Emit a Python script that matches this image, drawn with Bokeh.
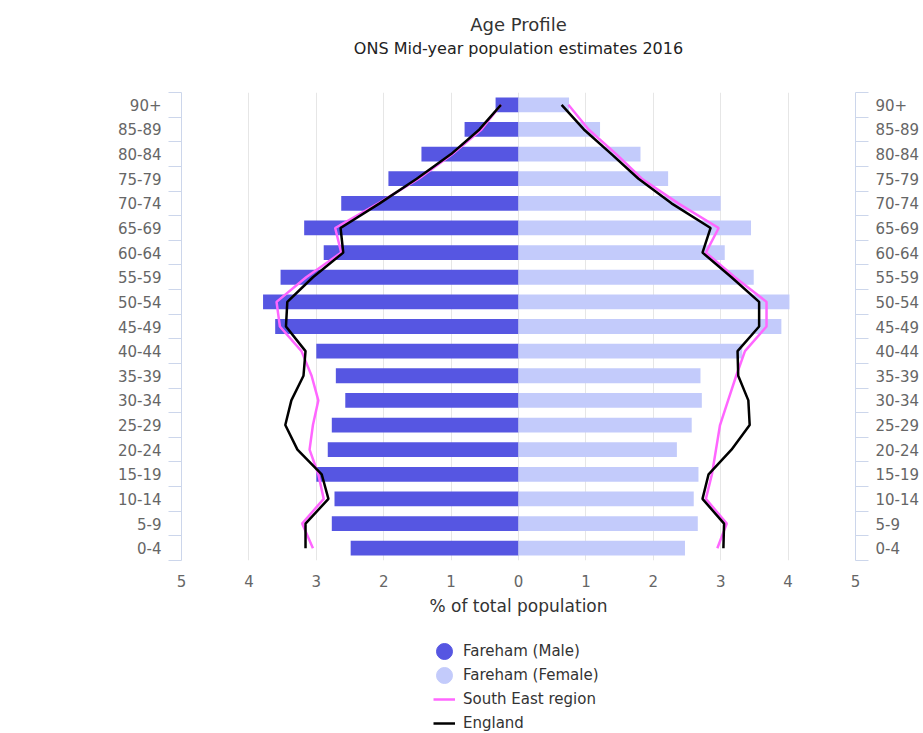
import numpy as np
from bokeh.plotting import figure
from bokeh.layouts import column
from bokeh.models import FixedTicker, LinearAxis, Range1d, Legend, LegendItem, Title
from bokeh.embed import file_html
from bokeh.resources import INLINE

# ---- data (bottom to top) ----
age_groups = ["0-4", "5-9", "10-14", "15-19", "20-24", "25-29", "30-34", "35-39",
              "40-44", "45-49", "50-54", "55-59", "60-64", "65-69", "70-74",
              "75-79", "80-84", "85-89", "90+"]
fareham_male = [2.49, 2.77, 2.73, 3.00, 2.83, 2.77, 2.57, 2.71, 3.00, 3.61,
                3.79, 3.53, 2.89, 3.18, 2.63, 1.93, 1.44, 0.80, 0.34]
fareham_female = [2.47, 2.66, 2.60, 2.67, 2.35, 2.57, 2.72, 2.70, 3.32, 3.90,
                  4.02, 3.49, 3.06, 3.45, 3.00, 2.22, 1.81, 1.21, 0.75]
south_east_male = [3.05, 3.21, 2.89, 2.97, 3.10, 3.05, 2.97, 3.07, 3.22, 3.54,
                   3.59, 3.15, 2.63, 2.72, 2.08, 1.48, 0.98, 0.55, 0.26]
south_east_female = [2.95, 3.09, 2.78, 2.87, 2.93, 2.99, 3.11, 3.23, 3.36, 3.68,
                     3.68, 3.21, 2.78, 2.97, 2.37, 1.83, 1.45, 1.04, 0.74]
england_male = [3.16, 3.16, 2.82, 2.92, 3.28, 3.46, 3.37, 3.19, 3.16, 3.45,
                3.43, 3.05, 2.60, 2.64, 2.06, 1.51, 1.00, 0.58, 0.26]
england_female = [3.04, 3.05, 2.73, 2.82, 3.16, 3.43, 3.41, 3.26, 3.25, 3.57,
                  3.57, 3.16, 2.73, 2.85, 2.27, 1.78, 1.38, 0.97, 0.64]
x_ticks = [-5, -4, -3, -2, -1, 0, 1, 2, 3, 4, 5]
series_names = ["Fareham (Male)", "Fareham (Female)", "South East region", "England"]

MALE = "#5656e2"
FEMALE = "#c3cbfb"
SE = "#ff66ff"
ENG = "#000000"
AXIS = "#ccd6eb"
FONT = "DejaVu Sans"

pos = list(range(len(age_groups)))
neg = lambda arr: [-v for v in arr]

p = figure(width=923, height=618, title=None,
           x_range=Range1d(-5, 5), y_range=Range1d(-0.5, len(age_groups) - 0.5),
           output_backend="svg", toolbar_location=None,
           min_border_left=181, min_border_right=68, min_border_top=92,
           min_border_bottom=58, x_axis_location=None, y_axis_location=None)
p.outline_line_color = None
p.background_fill_color = "white"

# titles (first added sits closest to the plot)
p.add_layout(Title(text=" ", text_font_size="10px", standoff=22), "above")
p.add_layout(Title(text="ONS Mid-year population estimates 2016", align="center",
                   text_font_size="16px", text_font=FONT, text_font_style="normal",
                   text_color="#222222", standoff=0), "above")
p.add_layout(Title(text="Age Profile", align="center", text_font_size="18px",
                   text_font=FONT, text_font_style="normal", text_color="#333333",
                   standoff=3), "above")

# bars
p.hbar(y=pos, left=neg(fareham_male), right=0, height=0.6, fill_color=MALE, line_color=None)
p.hbar(y=pos, left=0, right=fareham_female, height=0.6, fill_color=FEMALE, line_color=None)

# lines
p.line(x=neg(south_east_male), y=pos, line_color=SE, line_width=2.5)
p.line(x=south_east_female, y=pos, line_color=SE, line_width=2.5)
p.line(x=neg(england_male), y=pos, line_color=ENG, line_width=2.5)
p.line(x=england_female, y=pos, line_color=ENG, line_width=2.5)

# x axis
xt = FixedTicker(ticks=x_ticks)
xaxis = LinearAxis(ticker=xt,
                   major_label_overrides={t: str(abs(t)) for t in x_ticks},
                   axis_line_color=None, major_tick_line_color=None,
                   minor_tick_line_color=None, major_tick_out=0, major_tick_in=0,
                   minor_tick_out=0, minor_tick_in=0,
                   major_label_standoff=14, major_label_text_font_size="15px",
                   major_label_text_font=FONT, major_label_text_color="#666666",
                   axis_label="% of total population", axis_label_standoff=6,
                   axis_label_text_font_size="17px", axis_label_text_font=FONT,
                   axis_label_text_font_style="normal", axis_label_text_color="#333333")
p.add_layout(xaxis, "below")
p.xgrid.ticker = xt
p.xgrid.grid_line_color = "#e6e6e6"
p.ygrid.grid_line_color = None

# y axes
def make_yaxis():
    yt = FixedTicker(ticks=pos, minor_ticks=[i - 0.5 for i in range(len(age_groups) + 1)])
    return LinearAxis(ticker=yt,
                      major_label_overrides={i: lab for i, lab in enumerate(age_groups)},
                      axis_line_color=AXIS, major_tick_line_color=None,
                      major_tick_out=0, major_tick_in=0,
                      minor_tick_line_color=AXIS, minor_tick_out=13, minor_tick_in=0,
                      major_label_standoff=7, major_label_text_font_size="15px",
                      major_label_text_font=FONT, major_label_text_color="#666666")

p.add_layout(make_yaxis(), "left")
p.add_layout(make_yaxis(), "right")

# ---- legend strip below the chart ----
lg = figure(width=923, height=115, x_range=Range1d(0, 1), y_range=Range1d(0, 1),
            output_backend="svg", toolbar_location=None, min_border=0,
            x_axis_location=None, y_axis_location=None)
lg.outline_line_color = None
lg.xgrid.grid_line_color = None
lg.ygrid.grid_line_color = None
nan = np.array([np.nan])
r_m = lg.ellipse(x=nan, y=nan, width=16, height=16, width_units="screen",
                 height_units="screen", fill_color=MALE, line_color=MALE)
r_f = lg.ellipse(x=nan, y=nan, width=16, height=16, width_units="screen",
                 height_units="screen", fill_color=FEMALE, line_color=FEMALE)
r_se = lg.line(x=nan, y=nan, line_color=SE, line_width=2.5)
r_en = lg.line(x=nan, y=nan, line_color=ENG, line_width=2.5)

legend = Legend(items=[LegendItem(label=series_names[0], renderers=[r_m]),
                       LegendItem(label=series_names[1], renderers=[r_f]),
                       LegendItem(label=series_names[2], renderers=[r_se]),
                       LegendItem(label=series_names[3], renderers=[r_en])],
                location=(252, 0), orientation="vertical",
                glyph_width=22, glyph_height=20, label_height=20, label_standoff=8,
                spacing=4, padding=0, margin=0, border_line_color=None,
                background_fill_alpha=0, label_text_font_size="15px",
                label_text_font=FONT, label_text_color="#333333")
lg.add_layout(legend, "center")

layout = column(p, lg, spacing=0)
open("out.html", "w").write(file_html(layout, INLINE))
